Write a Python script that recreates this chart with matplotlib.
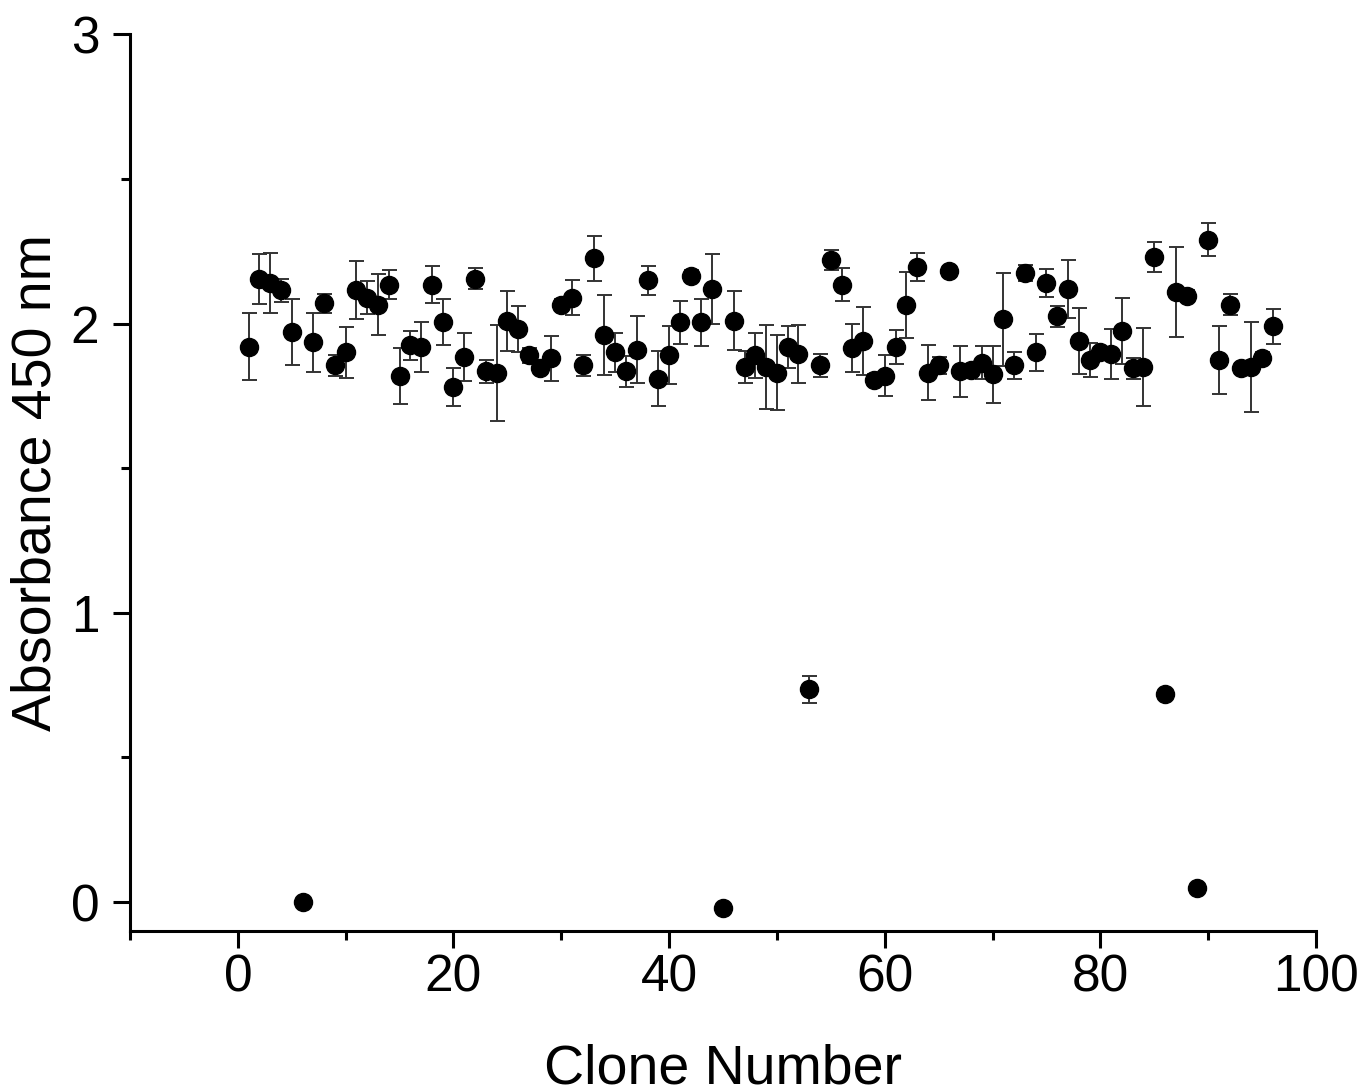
import matplotlib
matplotlib.use('Agg')
import matplotlib.pyplot as plt
from matplotlib.ticker import MultipleLocator

plt.rcParams['font.family'] = ['Liberation Sans', 'DejaVu Sans']

# absorbance readings per clone (mean, sd)
clone = list(range(1, 97))
absorbance = [
    1.92, 2.155, 2.14, 2.115, 1.97, 0.00, 1.935, 2.07, 1.855, 1.90,
    2.115, 2.09, 2.065, 2.135, 1.82, 1.925, 1.92, 2.135, 2.005, 1.78,
    1.885, 2.155, 1.835, 1.83, 2.01, 1.98, 1.89, 1.845, 1.88, 2.065,
    2.09, 1.855, 2.225, 1.96, 1.90, 1.835, 1.91, 2.15, 1.81, 1.89,
    2.005, 2.165, 2.005, 2.12, -0.02, 2.01, 1.85, 1.89, 1.85, 1.83,
    1.92, 1.895, 0.735, 1.855, 2.22, 2.135, 1.915, 1.94, 1.805, 1.82,
    1.92, 2.065, 2.195, 1.83, 1.855, 2.18, 1.835, 1.84, 1.865, 1.825,
    2.015, 1.855, 2.175, 1.90, 2.14, 2.025, 2.12, 1.94, 1.875, 1.90,
    1.895, 1.975, 1.845, 1.85, 2.23, 0.72, 2.11, 2.095, 0.05, 2.29,
    1.875, 2.065, 1.845, 1.85, 1.88, 1.99,
]
sd = [
    0.115, 0.087, 0.105, 0.04, 0.115, 0.0, 0.103, 0.032, 0.036, 0.087,
    0.10, 0.058, 0.105, 0.05, 0.097, 0.05, 0.086, 0.063, 0.08, 0.066,
    0.084, 0.036, 0.039, 0.166, 0.104, 0.079, 0.027, 0.02, 0.077, 0.02,
    0.062, 0.036, 0.078, 0.139, 0.068, 0.054, 0.115, 0.05, 0.096, 0.10,
    0.074, 0.02, 0.081, 0.121, 0.0, 0.101, 0.054, 0.077, 0.145, 0.13,
    0.073, 0.10, 0.048, 0.041, 0.035, 0.058, 0.082, 0.118, 0.02, 0.07,
    0.059, 0.114, 0.049, 0.095, 0.03, 0.02, 0.089, 0.02, 0.058, 0.098,
    0.161, 0.048, 0.027, 0.064, 0.047, 0.037, 0.10, 0.114, 0.059, 0.02,
    0.085, 0.115, 0.036, 0.134, 0.052, 0.0, 0.156, 0.02, 0.0, 0.058,
    0.118, 0.036, 0.02, 0.156, 0.02, 0.059,
]

fig = plt.figure(figsize=(13.63, 10.89), dpi=100)
ax = fig.add_axes([0.0954, 0.1451, 0.8701, 0.8234])

ax.errorbar(clone, absorbance, yerr=sd, fmt='o', color='black', markersize=13,
            ecolor='#333333', elinewidth=1.4, capsize=5.4, capthick=1.4)

ax.set_xlim(-10, 100)
ax.set_ylim(-0.1, 3)
ax.xaxis.set_major_locator(MultipleLocator(20))
ax.xaxis.set_minor_locator(MultipleLocator(10))
ax.yaxis.set_major_locator(MultipleLocator(1))
ax.yaxis.set_minor_locator(MultipleLocator(0.5))

for side in ['top', 'right']:
    ax.spines[side].set_visible(False)
for side in ['left', 'bottom']:
    ax.spines[side].set_linewidth(2.2)

ax.tick_params(which='major', length=12, width=2.2, direction='out', labelsize=37)
ax.tick_params(which='minor', length=6.5, width=2.2, direction='out')
ax.tick_params(axis='x', which='major', pad=4)
ax.tick_params(axis='y', which='major', pad=10)

ax.set_xlabel('Clone Number', fontsize=40, labelpad=30)
ax.set_ylabel('Absorbance 450 nm', fontsize=40, labelpad=6)

fig.savefig('out.png', dpi=100)
plt.close(fig)
